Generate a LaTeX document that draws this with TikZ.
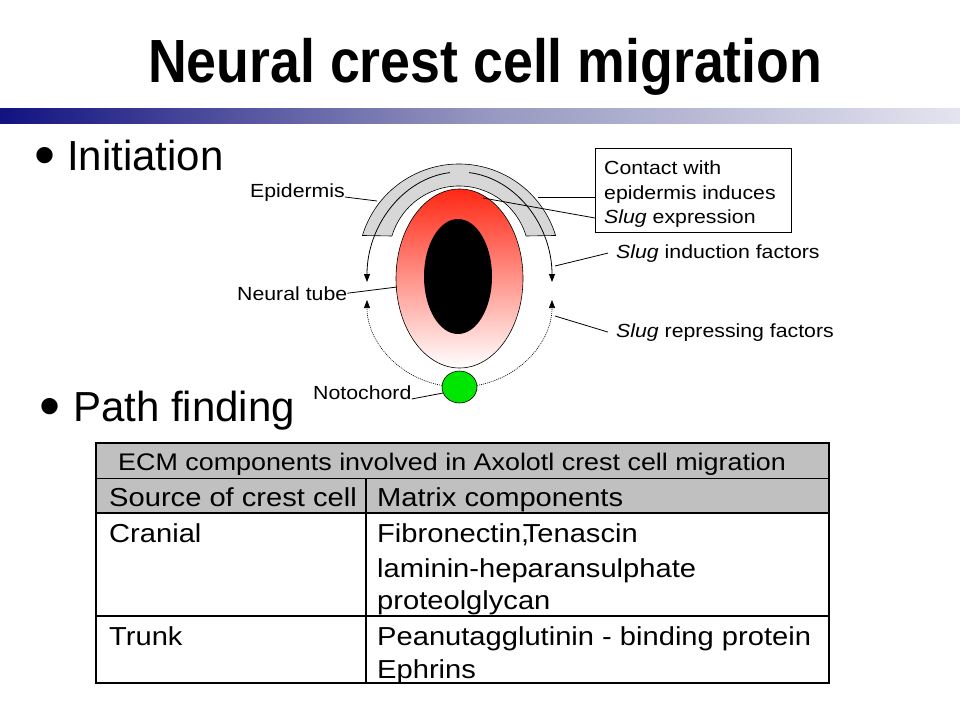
\documentclass[tikz,border=0pt]{standalone}
\usepackage{fontspec}
\setmainfont{Liberation Sans}
\newfontfamily\wf{Liberation Sans}[FakeStretch=1.12]
\newfontfamily\tf{Liberation Sans Bold}[FakeStretch=0.88]
\usetikzlibrary{arrows.meta,shapes.geometric}
\definecolor{barL}{RGB}{18,18,128}
\definecolor{barM}{RGB}{150,150,192}
\definecolor{barR}{RGB}{228,228,240}
\definecolor{tubered}{RGB}{255,40,20}
\definecolor{ncgreen}{RGB}{0,230,0}
\definecolor{epgray}{RGB}{215,215,215}
\definecolor{tblgray}{RGB}{192,192,192}
\begin{document}
\begin{tikzpicture}[x=1pt,y=-1pt,
  lbl/.style={font=\wf\fontsize{19}{22}\selectfont, inner sep=0pt, anchor=base west},
  lead/.style={draw=black, line width=0.8pt},
  tbl/.style={font=\wf\fontsize{26}{30}\selectfont, inner sep=0pt, anchor=base west},
  bul/.style={font=\fontsize{60}{64}\selectfont, inner sep=0pt, anchor=center},
  big/.style={font=\fontsize{42}{48}\selectfont, inner sep=0pt, anchor=base west},
  arr/.style={-{Triangle[length=8pt,width=6pt]}, line width=0.8pt},
  dotarr/.style={-{Triangle[length=8pt,width=6pt]}, line width=0.6pt, dash pattern=on 1pt off 1pt},
  tline/.style={draw=black, line width=1.5pt}]
\useasboundingbox (0,0) rectangle (960,720);
\fill[white] (0,0) rectangle (960,720);
% title and bar
\node[font=\tf\fontsize{61}{70}\selectfont, inner sep=0pt, anchor=base west] (title) at (148,82) {Neural crest cell migration};
\shade[left color=barL, right color=barR, middle color=barM] (0,108) rectangle (960,123);
% bullets
\node[bul] (b1) at (45,161) {•};
\node[big] (init) at (67,170) {Initiation};
\node[bul] (b2) at (50,412) {•};
\node[big] (path) at (73,421) {Path finding};
% epidermis band
\filldraw[fill=epgray, draw=black, line width=0.6pt]
  ([shift={(459,265)}]197:101) arc[start angle=197, end angle=343, radius=101]
  -- ([shift={(459,256)}]343.4:70) arc[start angle=343.4, end angle=196.6, radius=70] -- cycle;
% neural tube
\node[ellipse, draw=black, line width=0.6pt, minimum width=127pt, minimum height=179pt, inner sep=0pt,
  top color=tubered, bottom color=white] (tube) at (459.5,278.5) {};
\node[ellipse, fill=black, minimum width=68pt, minimum height=115pt, inner sep=0pt] (lumen) at (458,276.5) {};
% induction arrows
\draw[arr] ([shift={(459.5,282)}]264:92.5 and 110) arc[start angle=264, end angle=180, x radius=92.5, y radius=110];
\draw[arr] ([shift={(459.5,282)}]276:92.5 and 110) arc[start angle=276, end angle=360, x radius=92.5, y radius=110];
% repressing arrows (dotted)
\draw[dotarr] ([shift={(459.5,300)}]101:92.5 and 87) arc[start angle=101, end angle=180, x radius=92.5, y radius=87];
\draw[dotarr] ([shift={(459.5,300)}]79:92.5 and 87) arc[start angle=79, end angle=0, x radius=92.5, y radius=87];
% notochord
\node[ellipse, draw=black, line width=0.6pt, fill=ncgreen, minimum width=35pt, minimum height=32pt, inner sep=0pt] (noto) at (459.5,387) {};
% left labels
\node[lbl] (epi) at (250,197) {Epidermis};
\coordinate (epiend) at (377,201);
\draw[lead] (epi.base east) -- (epiend);
\node[lbl] (nt) at (237,300) {Neural tube};
\coordinate (ntend) at (397,287);
\draw[lead] (nt.east) -- (ntend);
\node[lbl] (nc) at (313,399) {Notochord};
\coordinate (ncend) at (443,393);
\draw[lead] (nc.base east) -- (ncend);
% box
\node[draw=black, line width=0.8pt, minimum width=196pt, minimum height=84pt, inner sep=0pt, anchor=north west] (box) at (595,148) {};
\node[lbl] (c1) at (604,174) {Contact with};
\node[lbl] (c2) at (604,199) {epidermis induces};
\node[lbl] (c3) at (604,223) {\textit{Slug} expression};
\coordinate (epicontact) at (538,197);
\coordinate (tubecontact) at (483,198);
\coordinate (boxlow) at (595,218);
\draw[lead] (epicontact -| box.west) -- (epicontact);
\draw[lead] (boxlow) -- (tubecontact);
% right labels
\node[lbl] (ind) at (616,258) {\textit{Slug} induction factors};
\coordinate (indend) at (555,266);
\draw[lead] ([xshift=-8pt]ind.west) -- (indend);
\node[lbl] (rep) at (616,337) {\textit{Slug} repressing factors};
\coordinate (repend) at (555,316);
\draw[lead] ([xshift=-8pt]rep.west) -- (repend);
% table
\fill[tblgray] (96,443) rectangle (829,513);
\draw[draw=black, line width=1pt] (96,478) -- (829,478);
\draw[draw=black, line width=1.2pt] (96,513) -- (829,513);
\draw[tline] (96,616) -- (829,616);
\draw[tline] (366,478) -- (366,683);
\draw[tline] (96,443) rectangle (829,683);
\node[tbl, font=\wf\fontsize{24}{28}\selectfont] (ecm) at (118,470) {ECM components involved in Axolotl crest cell migration};
\node[tbl] (src) at (109,506) {Source of crest cell};
\node[tbl] (mat) at (377,506) {Matrix components};
\node[tbl] (cran) at (109,542) {Cranial};
\node[tbl] (fib) at (377,542) {Fibronectin,\kern-0.25em Tenascin};
\node[tbl] (lam) at (377,577) {laminin-heparansulphate};
\node[tbl] (prot) at (377,609) {proteolglycan};
\node[tbl] (trunk) at (109,645) {Trunk};
\node[tbl] (pea) at (377,645) {Peanutagglutinin - binding protein};
\node[tbl] (eph) at (377,678) {Ephrins};
\end{tikzpicture}
\end{document}
